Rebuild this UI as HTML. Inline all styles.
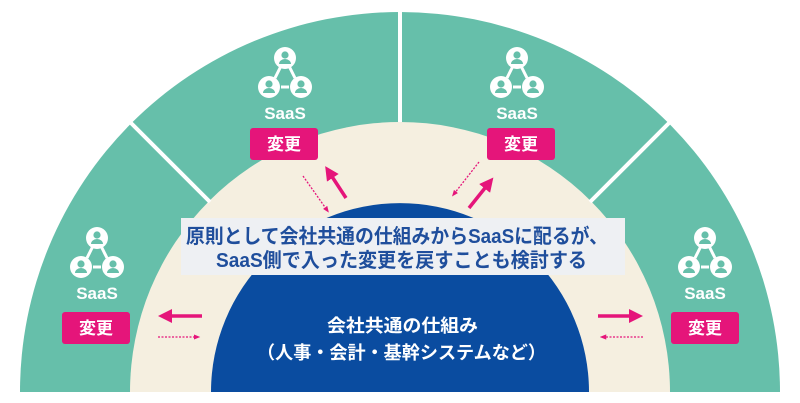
<!DOCTYPE html>
<html><head><meta charset="utf-8"><style>
html,body{margin:0;padding:0;background:#fff;}
svg{display:block;}
text{font-family:"Liberation Sans","Noto Sans CJK JP",sans-serif;font-weight:bold;}
</style></head><body>
<svg width="800" height="403" viewBox="0 0 800 403" xmlns="http://www.w3.org/2000/svg">
<defs>
<g id="ic">
 <line x1="-4" y1="8" x2="-10" y2="20" stroke="#fff" stroke-width="3"/>
 <line x1="4" y1="8" x2="10" y2="20" stroke="#fff" stroke-width="3"/>
 <line x1="-4" y1="29" x2="4" y2="29" stroke="#fff" stroke-width="3"/>
 <g id="p"><circle r="11" fill="#fff"/><circle cy="-3" r="3.6" fill="#66bfaa"/><path d="M-6,6 a6,5 0 0 1 12,0 z" fill="#66bfaa"/></g>
 <use href="#p" x="-16" y="29"/><use href="#p" x="16" y="29"/>
</g>
<marker id="ah" viewBox="0 0 10 10" refX="5" refY="5" markerWidth="4" markerHeight="4" orient="auto"><path d="M0,0 L10,5 L0,10 z" fill="#e5157a"/></marker>
<marker id="ahs" viewBox="0 0 10 10" refX="5" refY="5" markerWidth="5" markerHeight="5" orient="auto"><path d="M0,1 L10,5 L0,9 z" fill="#e5157a"/></marker>
</defs>
<path d="M20,392 A380,380 0 0 1 780,392 Z" fill="#66bfaa"/>
<path d="M130,392 A270,270 0 0 1 670,392 Z" fill="#f5efe0"/>
<g stroke="#fff" stroke-width="4">
 <line x1="400" y1="8" x2="400" y2="122"/>
 <line x1="131" y1="123" x2="210" y2="202"/>
 <line x1="669" y1="123" x2="590" y2="202"/>
</g>
<path d="M211,392 A189,189 0 0 1 589,392 Z" fill="#0a4ca0"/>
<rect x="181" y="218" width="444" height="57" fill="#eef0f3"/>
<text x="186" y="243" font-size="20" fill="#1f4e9c" textLength="422" lengthAdjust="spacingAndGlyphs">原則として会社共通の仕組みからSaaSに配るが、</text>
<text x="216" y="267" font-size="20" fill="#1f4e9c" textLength="371" lengthAdjust="spacingAndGlyphs">SaaS側で入った変更を戻すことも検討する</text>
<text x="327" y="332" font-size="18" fill="#fff" textLength="151" lengthAdjust="spacingAndGlyphs">会社共通の仕組み</text>
<text x="257" y="359" font-size="18" fill="#fff" textLength="289" lengthAdjust="spacingAndGlyphs">（人事・会計・基幹システムなど）</text>
<use href="#ic" x="285" y="58"/><use href="#ic" x="517" y="58"/>
<use href="#ic" x="97" y="238"/><use href="#ic" x="705" y="238"/>
<g font-size="17" fill="#fff" text-anchor="middle">
<text x="285" y="119">SaaS</text><text x="517" y="119">SaaS</text>
<text x="97" y="299">SaaS</text><text x="705" y="299">SaaS</text>
</g>
<g fill="#e5157a">
<rect x="250" y="128" width="68" height="32" rx="3"/><rect x="487" y="128" width="68" height="32" rx="3"/>
<rect x="62" y="312" width="68" height="32" rx="3"/><rect x="671" y="312" width="68" height="32" rx="3"/>
</g>
<g font-size="17" fill="#fff" text-anchor="middle">
<text x="284" y="150">変更</text><text x="521" y="150">変更</text>
<text x="96" y="334">変更</text><text x="705" y="334">変更</text>
</g>
<g stroke="#e5157a" fill="none">
<line x1="202" y1="316" x2="165" y2="316" stroke-width="3.5" marker-end="url(#ah)"/>
<line x1="158" y1="337" x2="197" y2="337" stroke-width="1.3" stroke-dasharray="2,1.5" marker-end="url(#ahs)"/>
<line x1="598" y1="316" x2="636" y2="316" stroke-width="3.5" marker-end="url(#ah)"/>
<line x1="643" y1="337" x2="603" y2="337" stroke-width="1.3" stroke-dasharray="2,1.5" marker-end="url(#ahs)"/>
<line x1="346" y1="198" x2="329" y2="172" stroke-width="3.5" marker-end="url(#ah)"/>
<line x1="303" y1="176" x2="327" y2="210" stroke-width="1.3" stroke-dasharray="2,1.5" marker-end="url(#ahs)"/>
<line x1="469" y1="208" x2="489" y2="183" stroke-width="3.5" marker-end="url(#ah)"/>
<line x1="479" y1="162" x2="454" y2="194" stroke-width="1.3" stroke-dasharray="2,1.5" marker-end="url(#ahs)"/>
</g>
</svg>
</body></html>
